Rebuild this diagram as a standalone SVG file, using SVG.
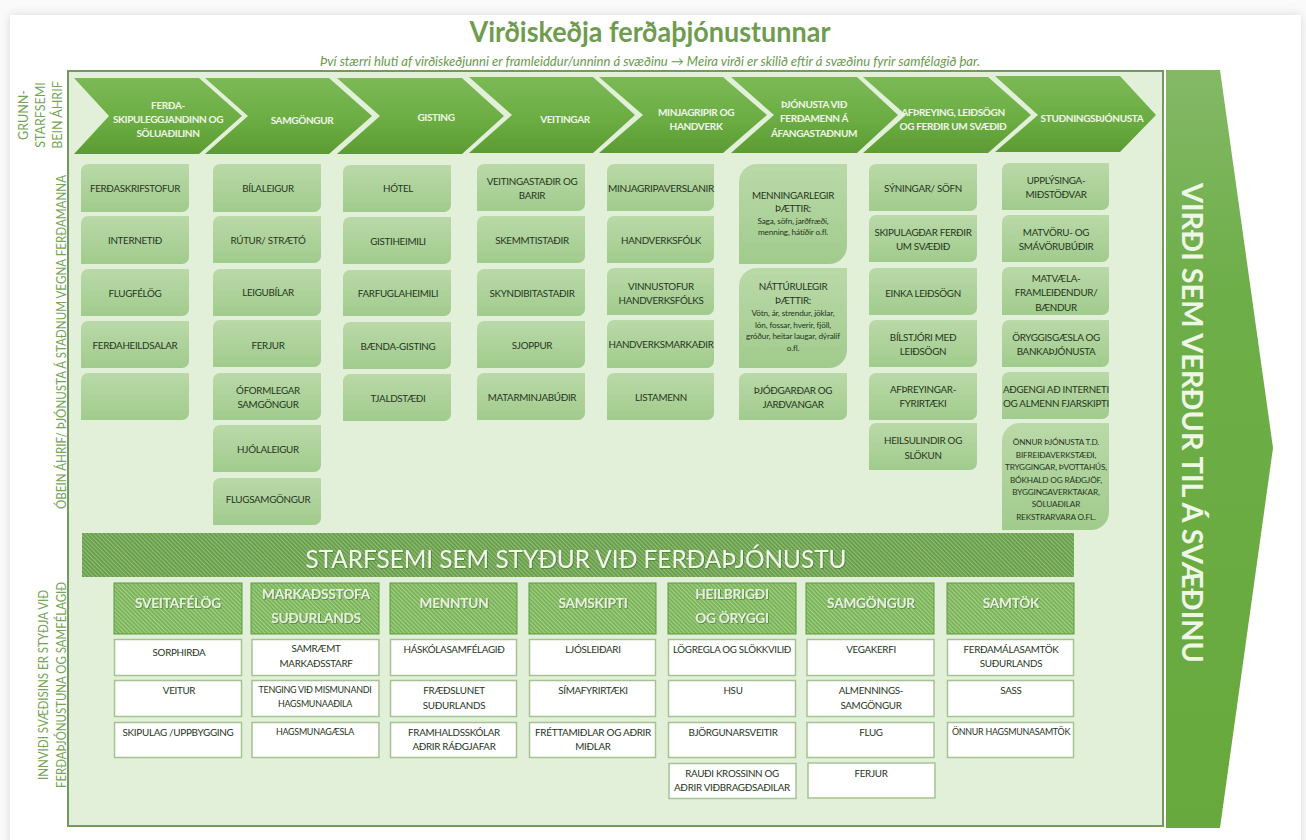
<svg xmlns="http://www.w3.org/2000/svg" width="1306" height="840" viewBox="0 0 1306 840">
<style>
text{font-family:Lato,"Open Sans","Liberation Sans",sans-serif;text-anchor:middle}
.b{fill:url(#boxg)}
.c{fill:url(#chev)}
.ct{font-size:10px;font-weight:700;fill:#f0f6e9;letter-spacing:-.35px}
.t{font-size:9.8px;fill:#27361d;letter-spacing:-.3px}
.s{font-size:8.2px;fill:#27361d;letter-spacing:-.15px}
.l{font-size:12.5px;fill:#74a655}
.w{fill:#fff;stroke:#a5c392;stroke-width:1.5}
.h{fill:url(#hatch2);stroke:#5f9a3f;stroke-width:1}
.ht{font-size:13.6px;font-weight:700;fill:#e6f0dd;letter-spacing:-.2px;filter:url(#sh)}
.wt{font-size:9.8px;fill:#27361d;letter-spacing:-.3px}
</style>
<defs>
<linearGradient id="chev" x1="0" y1="0" x2="0" y2="1"><stop offset="0" stop-color="#7cb956"/><stop offset=".6" stop-color="#6aac41"/><stop offset="1" stop-color="#5c9b33"/></linearGradient>
<linearGradient id="boxg" x1="0" y1="0" x2="0" y2="1"><stop offset="0" stop-color="#bad9a8"/><stop offset="1" stop-color="#a1cb8d"/></linearGradient>
<linearGradient id="arr" x1="0" y1="0" x2="0" y2="1"><stop offset="0" stop-color="#84b866"/><stop offset=".3" stop-color="#6dae48"/><stop offset="1" stop-color="#67a93c"/></linearGradient>
<pattern id="hatch1" patternUnits="userSpaceOnUse" width="3" height="3" patternTransform="rotate(-45)"><rect width="3" height="3" fill="#659848"/><rect width="1.3" height="3" fill="#8fbf74"/></pattern>
<pattern id="hatch2" patternUnits="userSpaceOnUse" width="3" height="3" patternTransform="rotate(-45)"><rect width="3" height="3" fill="#74b052"/><rect width="1.3" height="3" fill="#a5d08b"/></pattern>
<filter id="sh" x="-5%" y="-20%" width="110%" height="140%"><feDropShadow dx="0.8" dy="0.8" stdDeviation="0.6" flood-color="#3f6b28" flood-opacity=".7"/></filter>
<filter id="card" x="-2%" y="-2%" width="104%" height="104%"><feDropShadow dx="0" dy="0" stdDeviation="5" flood-color="#000" flood-opacity=".13"/></filter>
</defs>
<rect width="1306" height="840" fill="#fafafa"/>
<rect x="10" y="15" width="1291" height="840" fill="#fff" filter="url(#card)"/>

<g id="title">
<text x="650" y="42" font-size="29" font-weight="700" fill="#6f9c50" textLength="361" lengthAdjust="spacingAndGlyphs">Virðiskeðja ferðaþjónustunnar</text>
<text x="650" y="66" font-size="12.5" font-style="italic" fill="#6a9a4a" textLength="660" lengthAdjust="spacingAndGlyphs">Því stærri hluti af virðiskeðjunni er framleiddur/unninn á svæðinu → Meira virði er skilið eftir á svæðinu fyrir samfélagið þar.</text>
</g>

<rect id="frame" x="68" y="71" width="1095" height="755" fill="#e2f0d9" stroke="#76975f" stroke-width="2"/>

<g id="side-labels">
<text class="l" transform="translate(28 115) rotate(-90)">GRUNN-</text>
<text class="l" transform="translate(45 115) rotate(-90)">STARFSEMI</text>
<text class="l" transform="translate(62 115) rotate(-90)">BEIN ÁHRIF</text>
<text class="l" transform="translate(66 342) rotate(-90)" textLength="334" lengthAdjust="spacingAndGlyphs">ÓBEIN ÁHRIF/ ÞJÓNUSTA Á STAÐNUM VEGNA FERÐAMANNA</text>
<text class="l" transform="translate(48 685) rotate(-90)" textLength="190" lengthAdjust="spacingAndGlyphs">INNVIÐI SVÆÐISINS ER STYÐJA VIÐ</text>
<text class="l" transform="translate(66 685) rotate(-90)" textLength="206" lengthAdjust="spacingAndGlyphs">FERÐAÞJÓNUSTUNA OG SAMFÉLAGIÐ</text>
</g>

<g id="value-arrow">
<polygon points="1166,70 1220,70 1273,448 1220,828 1166,828" fill="url(#arr)"/>
<text transform="translate(1182 423) rotate(90)" font-size="29" font-weight="700" fill="#eef6e6" textLength="480" lengthAdjust="spacingAndGlyphs">VIRÐI SEM VERÐUR TIL Á SVÆÐINU</text>
</g>

<g id="chain-1"><polygon class="c" points="74,78 199,78 242,116 199,154 74,154 109,116"/><text class="ct" x="168" y="109">FERÐA-</text><text class="ct" x="168" y="123">SKIPULEGGJANDINN OG</text><text class="ct" x="168" y="137">SÖLUAÐILINN</text></g>
<g id="chain-2"><polygon class="c" points="205,78 329,78 372,116 329,154 205,154 248,116"/><text class="ct" x="302" y="124">SAMGÖNGUR</text></g>
<g id="chain-3"><polygon class="c" points="337,78 462,78 504,116 462,154 337,154 380,116"/><text class="ct" x="436" y="121">GISTING</text></g>
<g id="chain-4"><polygon class="c" points="469,77 593,77 635,115 593,153 469,153 512,115"/><text class="ct" x="565" y="123">VEITINGAR</text></g>
<g id="chain-5"><polygon class="c" points="599,77 723,77 767,115 723,153 599,153 643,115"/><text class="ct" x="696" y="116">MINJAGRIPIR OG</text><text class="ct" x="696" y="130">HANDVERK</text></g>
<g id="chain-6"><polygon class="c" points="731,77 857,77 898,115 857,153 731,153 774,115"/><text class="ct" x="814" y="108">ÞJÓNUSTA VIÐ</text><text class="ct" x="814" y="122">FERÐAMENN Á</text><text class="ct" x="814" y="137">ÁFANGASTAÐNUM</text></g>
<g id="chain-7"><polygon class="c" points="863,77 988,77 1031,115 988,153 863,153 906,115"/><text class="ct" x="953" y="116">AFÞREYING, LEIÐSÖGN</text><text class="ct" x="953" y="130">OG FERÐIR UM SVÆÐIÐ</text></g>
<g id="chain-8"><polygon class="c" points="995,76 1120,76 1156,115 1120,152 995,152 1038,115"/><text class="ct" x="1092" y="122">STUÐNINGSÞJÓNUSTA</text></g>

<g id="c1-1"><path class="b" d="M88 164h101v41a7 7 0 0 1-7 7h-101v-41a7 7 0 0 1 7-7z"/><text class="t" x="135" y="192">FERÐASKRIFSTOFUR</text></g>
<g id="c1-2"><path class="b" d="M88 216h101v41a7 7 0 0 1-7 7h-101v-41a7 7 0 0 1 7-7z"/><text class="t" x="135" y="244">INTERNETIÐ</text></g>
<g id="c1-3"><path class="b" d="M88 269h101v40a7 7 0 0 1-7 7h-101v-40a7 7 0 0 1 7-7z"/><text class="t" x="135" y="297">FLUGFÉLÖG</text></g>
<g id="c1-4"><path class="b" d="M88 321h101v40a7 7 0 0 1-7 7h-101v-40a7 7 0 0 1 7-7z"/><text class="t" x="135" y="349">FERÐAHEILDSALAR</text></g>
<g id="c1-5"><path class="b" d="M88 373h101v40a7 7 0 0 1-7 7h-101v-40a7 7 0 0 1 7-7z"/></g>

<g id="c2-1"><path class="b" d="M220 164h101v41a7 7 0 0 1-7 7h-101v-41a7 7 0 0 1 7-7z"/><text class="t" x="268" y="192">BÍLALEIGUR</text></g>
<g id="c2-2"><path class="b" d="M220 216h101v40a7 7 0 0 1-7 7h-101v-40a7 7 0 0 1 7-7z"/><text class="t" x="268" y="244">RÚTUR/ STRÆTÓ</text></g>
<g id="c2-3"><path class="b" d="M220 269h101v40a7 7 0 0 1-7 7h-101v-40a7 7 0 0 1 7-7z"/><text class="t" x="268" y="296">LEIGUBÍLAR</text></g>
<g id="c2-4"><path class="b" d="M220 320h101v40a7 7 0 0 1-7 7h-101v-40a7 7 0 0 1 7-7z"/><text class="t" x="268" y="349">FERJUR</text></g>
<g id="c2-5"><path class="b" d="M220 373h101v40a7 7 0 0 1-7 7h-101v-40a7 7 0 0 1 7-7z"/><text class="t" x="268" y="394">ÓFORMLEGAR</text><text class="t" x="268" y="408">SAMGÖNGUR</text></g>
<g id="c2-6"><path class="b" d="M220 425h101v40a7 7 0 0 1-7 7h-101v-40a7 7 0 0 1 7-7z"/><text class="t" x="268" y="453">HJÓLALEIGUR</text></g>
<g id="c2-7"><path class="b" d="M220 478h101v40a7 7 0 0 1-7 7h-101v-40a7 7 0 0 1 7-7z"/><text class="t" x="268" y="503">FLUGSAMGÖNGUR</text></g>

<g id="c3-1"><path class="b" d="M350 165h101v40a7 7 0 0 1-7 7h-101v-40a7 7 0 0 1 7-7z"/><text class="t" x="398" y="192">HÓTEL</text></g>
<g id="c3-2"><path class="b" d="M350 217h101v40a7 7 0 0 1-7 7h-101v-40a7 7 0 0 1 7-7z"/><text class="t" x="398" y="245">GISTIHEIMILI</text></g>
<g id="c3-3"><path class="b" d="M350 270h101v39a7 7 0 0 1-7 7h-101v-39a7 7 0 0 1 7-7z"/><text class="t" x="398" y="297">FARFUGLAHEIMILI</text></g>
<g id="c3-4"><path class="b" d="M350 322h101v40a7 7 0 0 1-7 7h-101v-40a7 7 0 0 1 7-7z"/><text class="t" x="398" y="350">BÆNDA-GISTING</text></g>
<g id="c3-5"><path class="b" d="M350 374h101v40a7 7 0 0 1-7 7h-101v-40a7 7 0 0 1 7-7z"/><text class="t" x="398" y="402">TJALDSTÆÐI</text></g>

<g id="c4-1"><path class="b" d="M484 164h101v40a7 7 0 0 1-7 7h-101v-40a7 7 0 0 1 7-7z"/><text class="t" x="532" y="185">VEITINGASTAÐIR OG</text><text class="t" x="532" y="199">BARIR</text></g>
<g id="c4-2"><path class="b" d="M484 216h101v40a7 7 0 0 1-7 7h-101v-40a7 7 0 0 1 7-7z"/><text class="t" x="532" y="244">SKEMMTISTAÐIR</text></g>
<g id="c4-3"><path class="b" d="M484 269h101v40a7 7 0 0 1-7 7h-101v-40a7 7 0 0 1 7-7z"/><text class="t" x="532" y="297">SKYNDIBITASTAÐIR</text></g>
<g id="c4-4"><path class="b" d="M484 321h101v40a7 7 0 0 1-7 7h-101v-40a7 7 0 0 1 7-7z"/><text class="t" x="532" y="349">SJOPPUR</text></g>
<g id="c4-5"><path class="b" d="M484 373h101v40a7 7 0 0 1-7 7h-101v-40a7 7 0 0 1 7-7z"/><text class="t" x="532" y="401">MATARMINJABÚÐIR</text></g>

<g id="c5-1"><path class="b" d="M614 164h100v40a7 7 0 0 1-7 7h-100v-40a7 7 0 0 1 7-7z"/><text class="t" x="661" y="192" textLength="106" lengthAdjust="spacingAndGlyphs">MINJAGRIPAVERSLANIR</text></g>
<g id="c5-2"><path class="b" d="M614 216h100v40a7 7 0 0 1-7 7h-100v-40a7 7 0 0 1 7-7z"/><text class="t" x="661" y="244">HANDVERKSFÓLK</text></g>
<g id="c5-3"><path class="b" d="M614 268h100v40a7 7 0 0 1-7 7h-100v-40a7 7 0 0 1 7-7z"/><text class="t" x="661" y="290">VINNUSTOFUR</text><text class="t" x="661" y="304">HANDVERKSFÓLKS</text></g>
<g id="c5-4"><path class="b" d="M614 320h100v41a7 7 0 0 1-7 7h-100v-41a7 7 0 0 1 7-7z"/><text class="t" x="661" y="348" textLength="105" lengthAdjust="spacingAndGlyphs">HANDVERKSMARKAÐIR</text></g>
<g id="c5-5"><path class="b" d="M614 373h100v40a7 7 0 0 1-7 7h-100v-40a7 7 0 0 1 7-7z"/><text class="t" x="661" y="401">LISTAMENN</text></g>

<g id="c6-1"><path class="b" d="M757 164h90v82a18 18 0 0 1-18 18h-90v-82a18 18 0 0 1 18-18z"/><text class="t" x="793" y="199">MENNINGARLEGIR</text><text class="t" x="793" y="212">ÞÆTTIR:</text><text class="s" x="793" y="224">Saga, söfn, jarðfræði,</text><text class="s" x="793" y="235">menning, hátíðir o.fl.</text></g>
<g id="c6-2"><path class="b" d="M757 268h90v82a18 18 0 0 1-18 18h-90v-82a18 18 0 0 1 18-18z"/><text class="t" x="793" y="290">NÁTTÚRULEGIR</text><text class="t" x="793" y="304">ÞÆTTIR:</text><text class="s" x="793" y="316">Vötn, ár, strendur, jöklar,</text><text class="s" x="793" y="328">lón, fossar, hverir, fjöll,</text><text class="s" x="793" y="339">gróður, heitar laugar, dýralíf</text><text class="s" x="793" y="351">o.fl.</text></g>
<g id="c6-3"><path class="b" d="M746 373h101v40a7 7 0 0 1-7 7h-101v-40a7 7 0 0 1 7-7z"/><text class="t" x="793" y="394">ÞJÓÐGARÐAR OG</text><text class="t" x="793" y="408">JARÐVANGAR</text></g>

<g id="c7-1"><path class="b" d="M876 164h101v40a7 7 0 0 1-7 7h-101v-40a7 7 0 0 1 7-7z"/><text class="t" x="923" y="192">SÝNINGAR/ SÖFN</text></g>
<g id="c7-2"><path class="b" d="M876 215h101v40a7 7 0 0 1-7 7h-101v-40a7 7 0 0 1 7-7z"/><text class="t" x="923" y="236">SKIPULAGÐAR FERÐIR</text><text class="t" x="923" y="250">UM SVÆÐIÐ</text></g>
<g id="c7-3"><path class="b" d="M876 268h101v40a7 7 0 0 1-7 7h-101v-40a7 7 0 0 1 7-7z"/><text class="t" x="923" y="297">EINKA LEIÐSÖGN</text></g>
<g id="c7-4"><path class="b" d="M876 320h101v40a7 7 0 0 1-7 7h-101v-40a7 7 0 0 1 7-7z"/><text class="t" x="923" y="341">BÍLSTJÓRI MEÐ</text><text class="t" x="923" y="355">LEIÐSÖGN</text></g>
<g id="c7-5"><path class="b" d="M876 373h101v40a7 7 0 0 1-7 7h-101v-40a7 7 0 0 1 7-7z"/><text class="t" x="923" y="393">AFÞREYINGAR-</text><text class="t" x="923" y="407">FYRIRTÆKI</text></g>
<g id="c7-6"><path class="b" d="M876 423h101v40a7 7 0 0 1-7 7h-101v-40a7 7 0 0 1 7-7z"/><text class="t" x="923" y="444">HEILSULINDIR OG</text><text class="t" x="923" y="459">SLÖKUN</text></g>

<g id="c8-1"><path class="b" d="M1009 163h100v40a7 7 0 0 1-7 7h-100v-40a7 7 0 0 1 7-7z"/><text class="t" x="1056" y="184">UPPLÝSINGA-</text><text class="t" x="1056" y="198">MIÐSTÖÐVAR</text></g>
<g id="c8-2"><path class="b" d="M1009 215h100v40a7 7 0 0 1-7 7h-100v-40a7 7 0 0 1 7-7z"/><text class="t" x="1056" y="236">MATVÖRU- OG</text><text class="t" x="1056" y="250">SMÁVÖRUBÚÐIR</text></g>
<g id="c8-3"><path class="b" d="M1009 267h100v41a7 7 0 0 1-7 7h-100v-41a7 7 0 0 1 7-7z"/><text class="t" x="1056" y="282">MATVÆLA-</text><text class="t" x="1056" y="296">FRAMLEIÐENDUR/</text><text class="t" x="1056" y="311">BÆNDUR</text></g>
<g id="c8-4"><path class="b" d="M1009 320h100v40a7 7 0 0 1-7 7h-100v-40a7 7 0 0 1 7-7z"/><text class="t" x="1056" y="341">ÖRYGGISGÆSLA OG</text><text class="t" x="1056" y="355">BANKAÞJÓNUSTA</text></g>
<g id="c8-5"><path class="b" d="M1009 372h100v40a7 7 0 0 1-7 7h-100v-40a7 7 0 0 1 7-7z"/><text class="t" x="1056" y="393" textLength="106" lengthAdjust="spacingAndGlyphs">AÐGENGI AÐ INTERNETI</text><text class="t" x="1056" y="407" textLength="106" lengthAdjust="spacingAndGlyphs">OG ALMENN FJARSKIPTI</text></g>
<g id="c8-6"><path class="b" d="M1020 423h89v89a18 18 0 0 1-18 18h-89v-89a18 18 0 0 1 18-18z"/><text class="s" x="1056" y="445">ÖNNUR ÞJÓNUSTA T.D.</text><text class="s" x="1056" y="458">BIFREIÐAVERKSTÆÐI,</text><text class="s" x="1056" y="470">TRYGGINGAR, ÞVOTTAHÚS,</text><text class="s" x="1056" y="483">BÓKHALD OG RÁÐGJÖF,</text><text class="s" x="1056" y="495">BYGGINGAVERKTAKAR,</text><text class="s" x="1056" y="507">SÖLUAÐILAR</text><text class="s" x="1056" y="520">REKSTRARVARA O.FL.</text></g>

<g id="support-band"><rect x="82" y="533" width="992" height="44" fill="url(#hatch1)"/><text x="576" y="568" font-size="25" fill="#f2f7ec" filter="url(#sh)" textLength="541" lengthAdjust="spacingAndGlyphs">STARFSEMI SEM STYÐUR VIÐ FERÐAÞJÓNUSTU</text></g>

<g id="s1"><rect class="h" x="114" y="583" width="128" height="51"/><text class="ht" x="178" y="608">SVEITAFÉLÖG</text>
<rect class="w" x="114.500" y="639.500" width="127" height="36"/><text class="wt" x="179" y="656">SORPHIRÐA</text>
<rect class="w" x="114.500" y="680.500" width="127" height="36"/><text class="wt" x="179" y="694">VEITUR</text>
<rect class="w" x="114.500" y="722.500" width="127" height="35"/><text class="wt" x="178" y="736" textLength="111" lengthAdjust="spacingAndGlyphs">SKIPULAG /UPPBYGGING</text></g>

<g id="s2"><rect class="h" x="251" y="583" width="128" height="51"/><text class="ht" x="316" y="599">MARKAÐSSTOFA</text><text class="ht" x="316" y="623">SUÐURLANDS</text>
<rect class="w" x="252" y="639.500" width="127" height="36"/><text class="wt" x="316" y="652">SAMRÆMT</text><text class="wt" x="316" y="667">MARKAÐSSTARF</text>
<rect class="w" x="252" y="680.500" width="127" height="36"/><text class="wt" x="315" y="693" textLength="113" lengthAdjust="spacingAndGlyphs">TENGING VIÐ MISMUNANDI</text><text class="wt" x="315" y="707" textLength="74" lengthAdjust="spacingAndGlyphs">HAGSMUNAAÐILA</text>
<rect class="w" x="252" y="722.500" width="127" height="35"/><text class="wt" x="315" y="735" textLength="78" lengthAdjust="spacingAndGlyphs">HAGSMUNAGÆSLA</text></g>

<g id="s3"><rect class="h" x="390" y="583" width="127" height="51"/><text class="ht" x="454" y="608">MENNTUN</text>
<rect class="w" x="390.500" y="639.500" width="126" height="36"/><text class="wt" x="454" y="653">HÁSKÓLASAMFÉLAGIÐ</text>
<rect class="w" x="390.500" y="680.500" width="126" height="36"/><text class="wt" x="454" y="694">FRÆÐSLUNET</text><text class="wt" x="454" y="709">SUÐURLANDS</text>
<rect class="w" x="390.500" y="722.500" width="126" height="35"/><text class="wt" x="454" y="736">FRAMHALDSSKÓLAR</text><text class="wt" x="454" y="750">AÐRIR RÁÐGJAFAR</text></g>

<g id="s4"><rect class="h" x="529" y="583" width="127" height="51"/><text class="ht" x="593" y="608">SAMSKIPTI</text>
<rect class="w" x="529.500" y="639.500" width="126" height="36"/><text class="wt" x="593" y="653">LJÓSLEIÐARI</text>
<rect class="w" x="529.500" y="680.500" width="126" height="36"/><text class="wt" x="593" y="694">SÍMAFYRIRTÆKI</text>
<rect class="w" x="529.500" y="722.500" width="126" height="35"/><text class="wt" x="593" y="736" textLength="116" lengthAdjust="spacingAndGlyphs">FRÉTTAMIÐLAR OG AÐRIR</text><text class="wt" x="593" y="750">MIÐLAR</text></g>

<g id="s5"><rect class="h" x="668" y="583" width="128" height="51"/><text class="ht" x="732" y="599">HEILBRIGÐI</text><text class="ht" x="732" y="623">OG ÖRYGGI</text>
<rect class="w" x="668.500" y="639.500" width="127" height="36"/><text class="wt" x="732" y="653" textLength="118" lengthAdjust="spacingAndGlyphs">LÖGREGLA OG SLÖKKVILIÐ</text>
<rect class="w" x="668.500" y="680.500" width="127" height="36"/><text class="wt" x="733" y="694">HSU</text>
<rect class="w" x="668.500" y="722.500" width="127" height="35"/><text class="wt" x="733" y="736">BJÖRGUNARSVEITIR</text>
<rect class="w" x="669" y="763.500" width="127" height="35"/><text class="wt" x="732" y="777">RAUÐI KROSSINN OG</text><text class="wt" x="732" y="791" textLength="116" lengthAdjust="spacingAndGlyphs">AÐRIR VIÐBRAGÐSAÐILAR</text></g>

<g id="s6"><rect class="h" x="806" y="583" width="128" height="51"/><text class="ht" x="871" y="608">SAMGÖNGUR</text>
<rect class="w" x="807" y="639.500" width="127" height="36"/><text class="wt" x="871" y="653">VEGAKERFI</text>
<rect class="w" x="807" y="680.500" width="127" height="36"/><text class="wt" x="871" y="694">ALMENNINGS-</text><text class="wt" x="871" y="709">SAMGÖNGUR</text>
<rect class="w" x="807" y="722.500" width="127" height="35"/><text class="wt" x="871" y="736">FLUG</text>
<rect class="w" x="808" y="763" width="127" height="35"/><text class="wt" x="871" y="777">FERJUR</text></g>

<g id="s7"><rect class="h" x="947" y="583" width="127" height="51"/><text class="ht" x="1011" y="608">SAMTÖK</text>
<rect class="w" x="947.500" y="639.500" width="126" height="36"/><text class="wt" x="1011" y="653">FERÐAMÁLASAMTÖK</text><text class="wt" x="1011" y="667">SUÐURLANDS</text>
<rect class="w" x="947.500" y="680.500" width="126" height="36"/><text class="wt" x="1011" y="694">SASS</text>
<rect class="w" x="947.500" y="722.500" width="126" height="35"/><text class="wt" x="1011" y="735" textLength="118" lengthAdjust="spacingAndGlyphs">ÖNNUR HAGSMUNASAMTÖK</text></g>
</svg>
